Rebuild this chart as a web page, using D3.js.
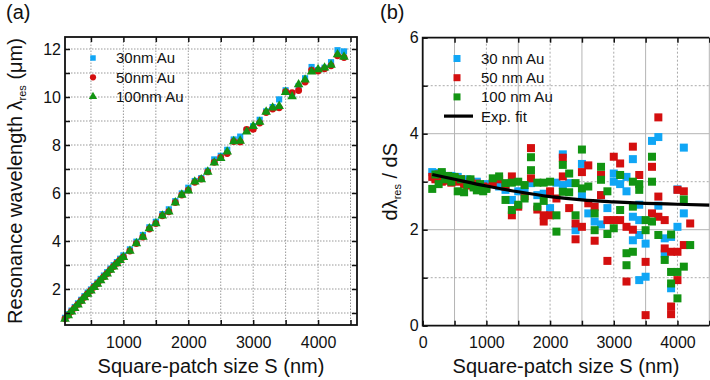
<!DOCTYPE html>
<html>
<head>
<meta charset="utf-8">
<script src="https://cdn.jsdelivr.net/npm/d3@7"></script>
<style>
  body { margin: 0; background: #fff; }
  svg { display: block; font-family: "Liberation Sans", Arial, sans-serif; }
  .grid-a { stroke: #999; stroke-width: 1; stroke-dasharray: 1.5,1.5; }
  .grid-solid { stroke: #b4b4b4; stroke-width: 1; }
  .grid-dash { stroke: #aaa; stroke-width: 1; stroke-dasharray: 2,2; }
  .tick-label { font-size: 16px; fill: #111; }
  .axis-title { font-size: 20px; fill: #111; }
  .legend-text { font-size: 15px; fill: #111; }
</style>
</head>
<body>
<svg id="chart" width="710" height="380"></svg>
<script>
// panel (a): resonance wavelength vs patch size
const sizesA = [100, 150, 200, 250, 300, 350, 400, 450, 500, 550, 600, 650, 700, 750, 800, 850, 900, 950, 1000,
  1100, 1200, 1300, 1400, 1500, 1600, 1700, 1800, 1900, 2000, 2100, 2200, 2300, 2400, 2500, 2600, 2700,
  2800, 2900, 3000, 3100, 3200, 3300, 3400, 3500, 3600, 3700, 3800, 3900, 4000, 4100, 4200, 4300, 4400];
const lambda30 = [0.80, 0.95, 1.10, 1.25, 1.40, 1.55, 1.70, 1.85, 1.98, 2.12, 2.27, 2.42, 2.56, 2.70, 2.85, 2.99, 3.12, 3.26, 3.40,
  3.65, 3.97, 4.25, 4.57, 4.80, 5.12, 5.32, 5.66, 5.98, 6.22, 6.50, 6.62, 6.93, 7.40, 7.55, 7.80, 8.23,
  8.35, 8.62, 8.78, 9.05, 9.40, 9.58, 9.90, 10.28, 10.10, 10.45, 10.78, 11.25, 11.12, 11.22, 11.45, 11.95, 11.90];
const lambda50 = [0.76, 0.91, 1.06, 1.21, 1.36, 1.51, 1.66, 1.80, 1.94, 2.08, 2.22, 2.37, 2.51, 2.65, 2.80, 2.94, 3.07, 3.21, 3.33,
  3.58, 3.90, 4.17, 4.50, 4.73, 5.05, 5.22, 5.60, 5.92, 6.12, 6.45, 6.58, 6.88, 7.28, 7.48, 7.65, 8.15,
  8.13, 8.65, 8.66, 8.92, 9.35, 9.50, 9.55, 10.22, 10.18, 10.27, 10.62, 11.12, 11.08, 11.18, 11.30, 11.72, 11.65];
const lambda100 = [0.75, 0.90, 1.05, 1.20, 1.35, 1.50, 1.65, 1.79, 1.93, 2.07, 2.21, 2.36, 2.50, 2.64, 2.79, 2.93, 3.06, 3.20, 3.32,
  3.58, 3.90, 4.17, 4.52, 4.73, 5.05, 5.22, 5.60, 5.92, 6.10, 6.47, 6.56, 6.88, 7.26, 7.45, 7.72, 8.15,
  8.17, 8.55, 8.78, 8.96, 9.38, 9.55, 9.62, 10.20, 10.02, 10.52, 10.72, 11.05, 11.15, 11.22, 11.33, 11.77, 11.67];

// panel (b): dλ/dS, [S, value] pairs per film thickness
const deriv30 = [[150,3.20],[200,3.18],[250,3.12],[300,3.15],[350,3.10],[400,3.08],[450,3.12],[500,3.05],[550,3.10],
  [600,3.02],[650,3.00],[700,3.05],[750,2.98],[800,2.95],[850,3.00],[900,2.92],[950,2.90],[1000,2.95],
  [1100,2.95],[1200,2.90],[1300,2.83],[1400,2.62],[1500,2.80],[1600,2.80],[1700,2.97],[1800,2.72],[1900,2.75],
  [2000,2.45],[2100,2.98],[2200,3.57],[2200,2.93],[2300,2.97],[2400,1.99],[2500,3.37],[2500,2.70],[2600,2.34],
  [2700,2.17],[2800,2.72],[2800,2.11],[2900,2.45],[3000,3.17],[3000,3.00],[3100,2.95],[3200,3.10],[3200,2.80],
  [3300,3.47],[3300,2.27],[3300,1.78],[3400,2.52],[3400,2.20],[3400,1.89],[3400,0.95],[3500,1.71],[3500,1.02],
  [3600,3.85],[3700,3.93],[3700,2.50],[3800,1.82],[3800,1.50],[3900,0.78],[3900,1.85],[4000,2.84],[4000,2.06],
  [4100,3.71],[4100,2.34]];
const deriv50 = [[150,3.10],[200,3.05],[250,3.15],[300,3.00],[350,3.10],[400,3.02],[450,2.98],[500,3.08],[550,3.00],
  [600,3.05],[650,2.95],[700,2.92],[750,3.00],[800,2.90],[850,2.96],[900,2.85],[950,2.90],[1000,2.88],
  [1100,2.97],[1200,3.05],[1300,2.90],[1400,3.11],[1400,2.30],[1500,2.48],[1600,2.70],[1700,3.70],[1700,3.07],
  [1800,2.42],[1900,2.17],[1900,2.30],[2000,2.30],[2000,2.80],[2100,2.65],[2200,3.50],[2200,3.11],[2300,2.45],
  [2400,2.13],[2400,1.80],[2500,3.20],[2500,2.06],[2600,3.34],[2600,2.55],[2700,2.48],[2700,1.77],[2800,2.72],
  [2800,3.14],[2900,2.20],[2900,1.35],[3000,3.52],[3000,2.20],[3100,3.38],[3100,2.20],[3200,2.06],[3200,0.92],
  [3300,3.73],[3300,2.00],[3400,3.14],[3500,1.33],[3500,0.22],[3600,3.31],[3600,2.34],[3700,4.34],[3700,2.69],
  [3700,2.27],[3800,2.20],[3800,1.61],[3900,1.54],[3900,0.40],[3900,0.24],[4000,2.83],[4000,1.54],[4000,0.95],
  [4100,2.80],[4100,1.68],[4200,2.13]];
const deriv100 = [[150,2.85],[200,3.15],[250,2.95],[300,3.20],[350,3.05],[400,3.12],[450,3.00],[500,3.10],[550,2.80],
  [600,3.05],[650,2.78],[700,2.95],[750,3.05],[800,2.88],[850,2.82],[900,2.95],[950,2.80],[1000,2.85],
  [1100,3.07],[1200,3.11],[1300,2.97],[1300,2.62],[1400,2.98],[1400,2.41],[1500,3.00],[1500,2.52],[1600,2.93],
  [1600,2.65],[1700,3.51],[1700,3.24],[1800,2.98],[1800,2.48],[1900,2.98],[1900,2.60],[2000,3.00],[2100,2.30],
  [2100,1.96],[2200,3.35],[2200,2.79],[2300,3.17],[2300,2.78],[2400,2.97],[2400,2.30],[2500,3.67],[2500,2.86],
  [2600,2.90],[2700,2.34],[2700,1.99],[2800,3.31],[2800,3.04],[2900,2.80],[2900,1.91],[3000,2.03],[3100,3.14],
  [3100,2.41],[3200,1.51],[3200,1.26],[3300,3.00],[3300,2.48],[3300,1.54],[3400,2.95],[3400,2.83],[3500,2.20],
  [3500,1.99],[3600,3.52],[3600,3.00],[3600,2.17],[3700,1.89],[3800,1.37],[3900,1.12],[3900,0.88],[3900,1.90],
  [4000,1.12],[4000,0.57],[4100,2.63],[4100,1.23],[4200,1.68]];
// exponential fit
const fitS = [150, 500, 1000, 1500, 2000, 2500, 3000, 3500, 4000, 4500];
const fitV = [3.15, 3.05, 2.91, 2.79, 2.69, 2.62, 2.58, 2.55, 2.53, 2.51];

const legendA = ["30nm Au", "50nm Au", "100nm Au"];
const legendB = ["30 nm Au", "50 nm Au", "100 nm Au", "Exp. fit"];
const colBlue = "#10a6f5", colRed = "#d40f0f", colGreen = "#129412";

const svg = d3.select("#chart");

// ---------- panel (a) ----------
const xA = d3.scaleLinear([100, 4600], [65, 357]);
const yA = d3.scaleLinear([0.5, 12.5], [325, 37]);
const gA = svg.append("g");

gA.selectAll(".gx").data(d3.range(500, 4600, 500)).join("line")
  .attr("class", "grid-a")
  .attr("x1", d => xA(d)).attr("x2", d => xA(d))
  .attr("y1", yA(0.5)).attr("y2", yA(12.5));
gA.selectAll(".gy").data(d3.range(1, 13)).join("line")
  .attr("class", "grid-a")
  .attr("x1", xA(100)).attr("x2", xA(4600))
  .attr("y1", d => yA(d)).attr("y2", d => yA(d));

const drawA = (vals, kind, color) => {
  const pts = sizesA.map((s, i) => [s, vals[i]]);
  const sym = d3.symbol().type(kind).size(kind === d3.symbolTriangle ? 40 : 38);
  gA.append("g").selectAll("path").data(pts).join("path")
    .attr("transform", d => `translate(${xA(d[0])},${yA(d[1])})`)
    .attr("d", sym)
    .attr("fill", color);
};
drawA(lambda30, d3.symbolSquare, colBlue);
drawA(lambda50, d3.symbolCircle, colRed);
drawA(lambda100, d3.symbolTriangle, colGreen);

// ticks inward on all sides
gA.append("g").attr("transform", `translate(0,${yA(0.5)})`)
  .call(d3.axisBottom(xA).tickValues(d3.range(500, 4600, 500)).tickSizeInner(-5).tickSizeOuter(0)
    .tickFormat(d => d % 1000 === 0 ? d : ""))
  .call(g => g.select(".domain").remove())
  .call(g => g.selectAll("text").attr("class", "tick-label").attr("dy", "1.05em").attr("y", 6));
gA.append("g").attr("transform", `translate(0,${yA(12.5)})`)
  .call(d3.axisTop(xA).tickValues(d3.range(500, 4600, 500)).tickSizeInner(-5).tickSizeOuter(0).tickFormat(""))
  .call(g => g.select(".domain").remove());
gA.append("g").attr("transform", `translate(${xA(100)},0)`)
  .call(d3.axisLeft(yA).tickValues(d3.range(1, 13)).tickSizeInner(-5).tickSizeOuter(0)
    .tickFormat(d => d % 2 === 0 ? d : ""))
  .call(g => g.select(".domain").remove())
  .call(g => g.selectAll("text").attr("class", "tick-label").attr("x", -4));
gA.append("g").attr("transform", `translate(${xA(4600)},0)`)
  .call(d3.axisRight(yA).tickValues(d3.range(1, 13)).tickSizeInner(-5).tickSizeOuter(0).tickFormat(""))
  .call(g => g.select(".domain").remove());
gA.selectAll(".tick line").attr("stroke", "#111").attr("stroke-width", 1.5);

gA.append("rect")
  .attr("x", xA(100)).attr("y", yA(12.5))
  .attr("width", xA(4600) - xA(100)).attr("height", yA(0.5) - yA(12.5))
  .attr("fill", "none").attr("stroke", "#111").attr("stroke-width", 1.8);

// legend (a)
const symsA = [d3.symbolSquare, d3.symbolCircle, d3.symbolTriangle];
const colsA = [colBlue, colRed, colGreen];
legendA.forEach((t, i) => {
  const y = 58 + i * 19.3;
  gA.append("path").attr("transform", `translate(93,${y})`)
    .attr("d", d3.symbol().type(symsA[i]).size(30)).attr("fill", colsA[i]);
  gA.append("text").attr("class", "legend-text").attr("x", 116).attr("y", y).attr("dy", "0.36em").text(t);
});

gA.append("text").attr("class", "axis-title").attr("text-anchor", "middle")
  .attr("x", xA(2350)).attr("y", 373).text("Square-patch size S (nm)");
const ytA = gA.append("text").attr("class", "axis-title").attr("text-anchor", "middle")
  .attr("transform", `translate(22,${(yA(0.5) + yA(12.5)) / 2}) rotate(-90)`);
ytA.append("tspan").text("Resonance wavelength λ");
ytA.append("tspan").attr("font-size", "11px").attr("dy", "4").text("res");
ytA.append("tspan").attr("dy", "-4").text(" (μm)");
svg.append("text").attr("class", "axis-title").attr("x", 6).attr("y", 19).text("(a)");

// ---------- panel (b) ----------
const xB = d3.scaleLinear([0, 4500], [422.7, 709.3]);
const yB = d3.scaleLinear([0, 6], [325.7, 37.7]);
const gB = svg.append("g");

gB.selectAll(".gvx").data(d3.range(500, 4600, 500)).join("line")
  .attr("class", d => d % 1000 === 0 ? "grid-dash" : "grid-solid")
  .attr("x1", d => xB(d)).attr("x2", d => xB(d))
  .attr("y1", yB(0)).attr("y2", yB(6));
gB.selectAll(".gvy").data(d3.range(1, 6)).join("line")
  .attr("class", d => d % 2 === 0 ? "grid-solid" : "grid-dash")
  .attr("x1", xB(0)).attr("x2", xB(4500))
  .attr("y1", d => yB(d)).attr("y2", d => yB(d));

const drawB = (pts, color) => {
  gB.append("g").selectAll("rect").data(pts).join("rect")
    .attr("x", d => xB(d[0]) - 4).attr("y", d => yB(d[1]) - 4)
    .attr("width", 8).attr("height", 8)
    .attr("fill", color);
};
drawB(deriv30, colBlue);
drawB(deriv50, colRed);
drawB(deriv100, colGreen);

gB.append("path")
  .datum(fitS.map((s, i) => [s, fitV[i]]))
  .attr("fill", "none").attr("stroke", "#000").attr("stroke-width", 3.2)
  .attr("d", d3.line().x(d => xB(d[0])).y(d => yB(d[1])).curve(d3.curveMonotoneX));

gB.append("g").attr("transform", `translate(0,${yB(0)})`)
  .call(d3.axisBottom(xB).tickValues(d3.range(0, 4600, 500)).tickSizeInner(-5).tickSizeOuter(0)
    .tickFormat(d => d % 1000 === 0 ? d : ""))
  .call(g => g.select(".domain").remove())
  .call(g => g.selectAll("text").attr("class", "tick-label").attr("dy", "1.05em").attr("y", 6));
gB.append("g").attr("transform", `translate(0,${yB(6)})`)
  .call(d3.axisTop(xB).tickValues(d3.range(500, 4600, 500)).tickSizeInner(-5).tickSizeOuter(0).tickFormat(""))
  .call(g => g.select(".domain").remove());
gB.append("g").attr("transform", `translate(${xB(0)},0)`)
  .call(d3.axisLeft(yB).tickValues(d3.range(0, 7)).tickSizeInner(-5).tickSizeOuter(0)
    .tickFormat(d => d % 2 === 0 ? d : ""))
  .call(g => g.select(".domain").remove())
  .call(g => g.selectAll("text").attr("class", "tick-label").attr("x", -4));
gB.selectAll(".tick line").attr("stroke", "#111").attr("stroke-width", 1.5);

gB.append("path")
  .attr("d", `M${xB(4500)},${yB(6)}H${xB(0)}V${yB(0)}H${xB(4500)}`)
  .attr("fill", "none").attr("stroke", "#111").attr("stroke-width", 1.8);

// legend (b)
const colsB = [colBlue, colRed, colGreen];
legendB.forEach((t, i) => {
  const y = 58.5 + i * 19.2;
  if (i < 3) {
    gB.append("rect").attr("x", 453.5).attr("y", y - 3.5).attr("width", 7).attr("height", 7).attr("fill", colsB[i]);
  } else {
    gB.append("line").attr("x1", 444).attr("x2", 473).attr("y1", y).attr("y2", y)
      .attr("stroke", "#000").attr("stroke-width", 3.2);
  }
  gB.append("text").attr("class", "legend-text").attr("x", 481).attr("y", y).attr("dy", "0.36em").text(t);
});

gB.append("text").attr("class", "axis-title").attr("text-anchor", "middle")
  .attr("x", xB(2250)).attr("y", 373).text("Square-patch size S (nm)");
const ytB = gB.append("text").attr("class", "axis-title").attr("text-anchor", "middle")
  .attr("transform", `translate(397,${yB(3)}) rotate(-90)`);
ytB.append("tspan").text("dλ");
ytB.append("tspan").attr("font-size", "11px").attr("dy", "4").text("res");
ytB.append("tspan").attr("dy", "-4").text(" / dS");
svg.append("text").attr("class", "axis-title").attr("x", 380).attr("y", 19).text("(b)");
</script>
</body>
</html>
